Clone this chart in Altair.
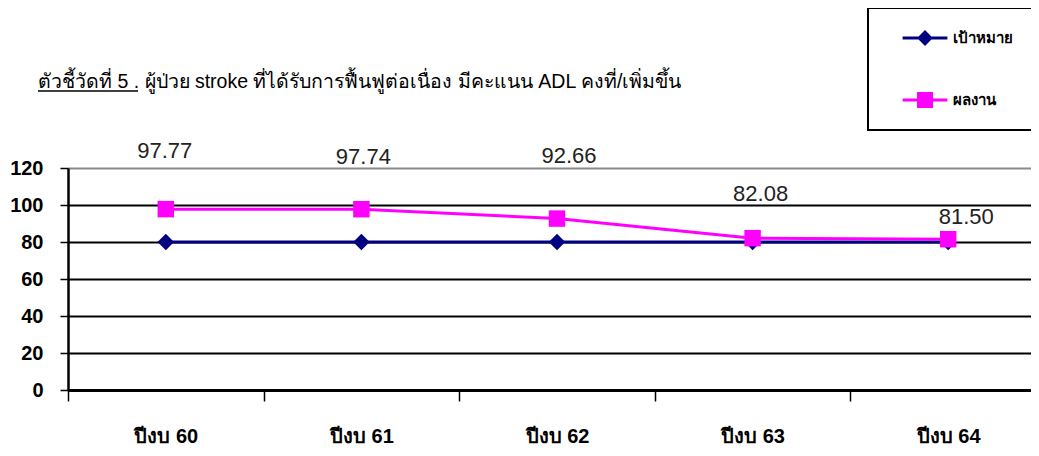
import altair as alt
import pandas as pd

years = ["ปีงบ 60", "ปีงบ 61", "ปีงบ 62", "ปีงบ 63", "ปีงบ 64"]
target = [80, 80, 80, 80, 80]
result = [97.77, 97.74, 92.66, 82.08, 81.50]
series_names = ["เป้าหมาย", "ผลงาน"]
series_colors = ["#000080", "#FF00FF"]
y_ticks = [0, 20, 40, 60, 80, 100, 120]
title_lead = "ตัวชี้วัดที่ 5 ."
title_rest = " ผู้ป่วย stroke ที่ได้รับการฟื้นฟูต่อเนื่อง มีคะแนน ADL คงที่/เพิ่มขึ้น"

# per-label nudges (dx, dy) in pixels, as in the reference
label_nudges = [(-1, -58), (2, -52), (12, -63), (8, -44), (18, -22)]

rows = []
for i, yr in enumerate(years):
    rows.append({"year": yr, "series": series_names[0], "value": target[i]})
    rows.append({"year": yr, "series": series_names[1], "value": result[i]})
df = pd.DataFrame(rows)
df["label"] = df["value"].map(lambda v: f"{v:.2f}")

FONT = "Liberation Sans"

x_enc = alt.X(
    "year:N",
    sort=years,
    bandPosition=0.5,
    scale=alt.Scale(type="band", domain=years, range=[0, 978], paddingInner=0, paddingOuter=0),
    axis=alt.Axis(
        title=None, labelAngle=0, labelFont=FONT, labelFontSize=20, labelFontWeight="bold",
        labelColor="black", labelPadding=25, tickBand="extent", tickSize=11,
        tickColor="black", tickWidth=1.5, domainColor="black", domainWidth=3, grid=False,
    ),
)
y_enc = alt.Y(
    "value:Q",
    scale=alt.Scale(domain=[0, 120], nice=False),
    axis=alt.Axis(
        title=None, values=y_ticks, labelFont=FONT, labelFontSize=20, labelFontWeight="bold",
        labelColor="black", labelPadding=17, tickSize=8, tickColor="black", tickWidth=1.5,
        domainColor="black", domainWidth=2.5,
        gridColor={"condition": {"test": "datum.value === 120", "value": "#888888"}, "value": "black"},
        gridWidth=2,
    ),
)

color_scale = alt.Scale(domain=series_names, range=series_colors)
shape_scale = alt.Scale(domain=series_names, range=["diamond", "square"])

legend_paths = [
    "M-2.8,-0.2L-0.8,-0.2L0,-1L0.8,-0.2L2.8,-0.2L2.8,0.2L0.8,0.2L0,1L-0.8,0.2L-2.8,0.2Z",
    "M-2.8,-0.2L-1,-0.2L-1,-1L1,-1L1,-0.2L2.8,-0.2L2.8,0.2L1,0.2L1,1L-1,1L-1,0.2L-2.8,0.2Z",
]

base = alt.Chart(df)

lines = base.mark_line(strokeWidth=3).encode(
    x=x_enc, y=y_enc,
    color=alt.Color("series:N", scale=color_scale, legend=None),
)

points = base.mark_point(filled=True, opacity=1, size=270).encode(
    x=x_enc, y=y_enc,
    color=alt.Color("series:N", scale=color_scale, legend=None),
    shape=alt.Shape("series:N", scale=shape_scale, legend=None),
)

legend_layer = base.transform_filter("false").mark_point(filled=True, opacity=1).encode(
    x=x_enc, y=y_enc,
    color=alt.Color("series:N", scale=color_scale, legend=alt.Legend(
        orient="none", legendX=800, legendY=-160, title=None,
        strokeColor="black", fillColor="white", padding=22,
        symbolOffset=27, labelOffset=20, rowPadding=46,
        labelFont=FONT, labelFontSize=15, labelFontWeight="bold", labelColor="black",
        symbolSize=256, symbolStrokeWidth=0,
    )),
    shape=alt.Shape("series:N", scale=alt.Scale(domain=series_names, range=legend_paths)),
)

label_layers = []
for i, yr in enumerate(years):
    dx, dy = label_nudges[i]
    label_layers.append(
        base.transform_filter(
            (alt.datum.year == yr) & (alt.datum.series == series_names[1])
        ).mark_text(
            font=FONT, fontSize=22, color="#222222",
            dx=dx, dy=dy, baseline="middle", align="center",
        ).encode(x=x_enc, y=y_enc, text="label:N")
    )

title_df = pd.DataFrame({"full": [title_lead + title_rest]})
title_text = alt.Chart(title_df).mark_text(
    font=FONT, fontSize=19.5, color="black", align="left", baseline="alphabetic",
).encode(x=alt.value(-30), y=alt.value(-80), text="full:N")
underline = alt.Chart(title_df).mark_rule(color="black", strokeWidth=1.5).encode(
    x=alt.value(-30), x2=alt.value(70), y=alt.value(-77)
)

chart = alt.layer(
    lines, points, legend_layer, *label_layers, title_text, underline
).resolve_scale(
    color="independent", shape="independent"
).properties(
    width=963, height=222,
    autosize=alt.AutoSizeParams(type="none"),
    padding={"left": 60, "top": 160, "right": 0, "bottom": 66},
).configure_view(stroke=None).configure_legend(strokeWidth=2)

chart.save("out.html", embed_options={"renderer": "svg", "actions": False})
